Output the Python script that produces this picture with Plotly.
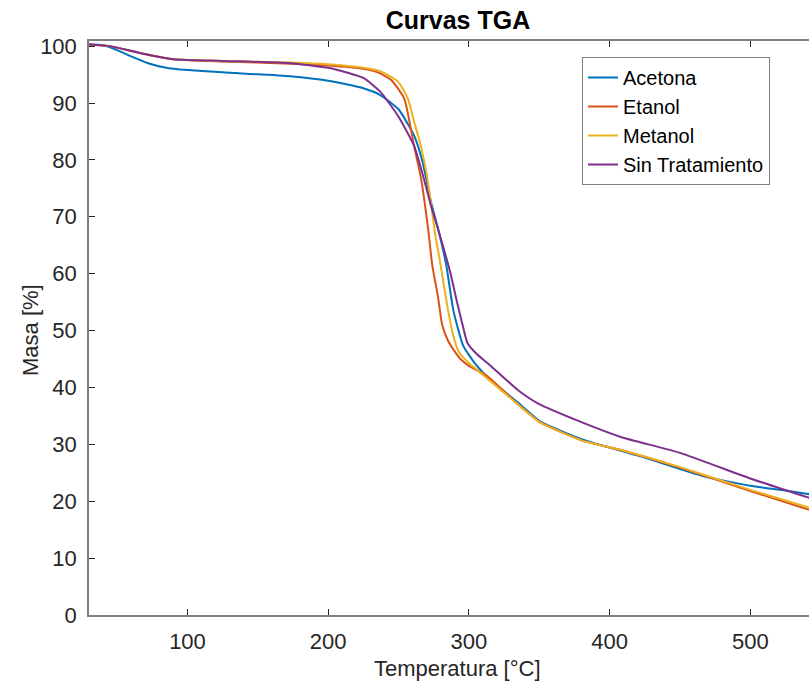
import plotly.graph_objects as go

# ---- data ----
T_acetona = [30, 40, 50, 60, 72, 85, 95, 125, 173, 200, 225, 237, 250, 261, 267, 273,
             279, 284, 289, 296, 305, 315, 335, 351, 380, 422, 467, 500, 525, 543]
m_acetona = [100.3, 100.2, 99.3, 98.2, 97.0, 96.2, 95.9, 95.4, 94.7, 93.9, 92.6, 91.4,
             88.9, 84.3, 79.7, 72.7, 67.0, 61.4, 53.5, 47.3, 44.0, 41.4, 37.3, 34.0,
             30.9, 27.9, 24.4, 22.7, 21.9, 21.2]

T_etanol = [30, 45, 66, 90, 125, 173, 200, 225, 237, 245, 254, 261, 266, 271, 274, 278,
            281, 285, 290, 294, 300, 313, 335, 351, 380, 408, 450, 500, 543]
m_etanol = [100.3, 100.0, 98.8, 97.7, 97.3, 96.9, 96.6, 96.0, 95.2, 94.0, 90.8, 82.5,
            76.7, 67.9, 61.4, 56.0, 51.0, 48.3, 46.3, 45.0, 43.8, 42.0, 37.0, 33.8,
            30.7, 29.0, 25.9, 21.8, 18.4]

T_metanol = [30, 45, 66, 90, 125, 173, 200, 225, 237, 249.5, 256.6, 261, 265.8, 270,
             273, 276, 280, 285, 289, 293, 300, 311, 335, 351, 380, 408, 450, 500, 543]
m_metanol = [100.3, 100.0, 98.8, 97.7, 97.4, 97.1, 96.8, 96.2, 95.6, 93.8, 90.8, 86.8,
             82.5, 77.5, 72.5, 67.0, 61.4, 53.8, 49.0, 46.2, 44.3, 42.0, 37.0, 33.8,
             30.7, 29.0, 26.0, 22.0, 18.8]

T_sin = [30, 45, 66, 90, 125, 173, 202, 225, 237, 250, 261, 268, 273, 278, 282, 287,
         291, 295, 299, 305, 316, 335, 349, 380, 408, 450, 500, 543]
m_sin = [100.3, 100.0, 98.8, 97.7, 97.4, 97.0, 96.1, 94.4, 92.0, 87.6, 82.5, 76.7,
         72.0, 67.9, 64.5, 60.0, 55.6, 51.5, 47.8, 46.0, 43.7, 39.5, 37.2, 33.9,
         31.3, 28.5, 24.0, 20.5]

names = ["Acetona", "Etanol", "Metanol", "Sin Tratamiento"]
colors = ["#0072BD", "#D95319", "#EDB120", "#7E2F8E"]
x_ticks = [100, 200, 300, 400, 500]
y_ticks = [0, 10, 20, 30, 40, 50, 60, 70, 80, 90, 100]

FONT = "Arial, Liberation Sans, sans-serif"
TXT = "#262626"
AX = "#808080"

fig = go.Figure()
for T, m, n, c in zip([T_acetona, T_etanol, T_metanol, T_sin],
                      [m_acetona, m_etanol, m_metanol, m_sin], names, colors):
    fig.add_trace(go.Scatter(x=T, y=m, mode="lines", name=n,
                             line=dict(color=c, width=2, shape="spline", smoothing=0.5)))

W, H = 809, 687
L, R, TOP, BOT = 89, 0, 41, 72
pw = W - L - R

fig.update_layout(
    width=W, height=H,
    margin=dict(l=L, r=R, t=TOP, b=BOT, pad=0),
    paper_bgcolor="white", plot_bgcolor="white",
    font=dict(family=FONT, color=TXT, size=22),
    title=dict(text="<b>Curvas TGA</b>", x=(458 - L) / pw, xref="paper", xanchor="center",
               y=1 - 20 / H, yref="container", yanchor="middle",
               font=dict(family=FONT, size=25, color="#000000")),
    showlegend=True,
    legend=dict(x=(582 - L) / pw, y=1 - (57 - TOP) / (H - TOP - BOT),
                xanchor="left", yanchor="top",
                bgcolor="white", bordercolor=AX, borderwidth=1,
                font=dict(family=FONT, size=20, color="#000000"),
                tracegroupgap=0),
    xaxis=dict(range=[30, 30 + pw / 1.407], tickvals=x_ticks, ticks="inside", ticklen=6,
               tickcolor=TXT, showline=True, linecolor=AX, linewidth=1.5,
               mirror="ticks", showgrid=False, zeroline=False,
               tickfont=dict(family=FONT, size=22, color=TXT), ticklabelstandoff=6),
    yaxis=dict(range=[0, 100.9], tickvals=y_ticks, ticks="inside", ticklen=6,
               tickcolor=TXT, showline=True, linecolor=AX, linewidth=1.5,
               mirror=False, showgrid=False, zeroline=False,
               tickfont=dict(family=FONT, size=22, color=TXT), ticklabelstandoff=6),
    annotations=[
        dict(text="Temperatura [°C]", x=(458 - L) / pw, xref="paper",
             y=-(668 - (H - BOT)) / (H - TOP - BOT), yref="paper",
             xanchor="center", yanchor="middle", showarrow=False,
             font=dict(family=FONT, size=22, color=TXT)),
        dict(text="Masa [%]", x=(30 - L) / pw, xref="paper",
             y=((H - BOT) - 330) / (H - TOP - BOT), yref="paper",
             xanchor="center", yanchor="middle", textangle=-90, showarrow=False,
             font=dict(family=FONT, size=22, color=TXT)),
    ],
)

fig.write_html("out.html")
